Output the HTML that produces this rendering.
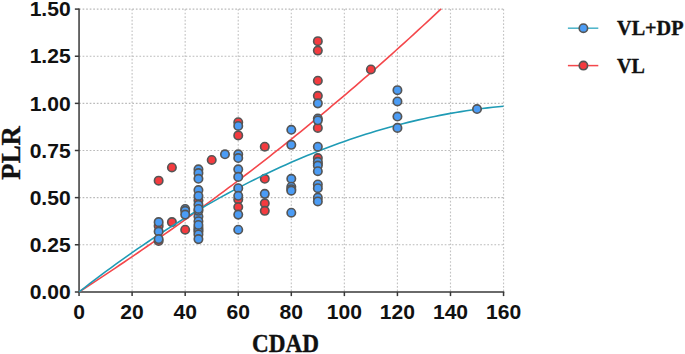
<!DOCTYPE html>
<html><head><meta charset="utf-8"><title>chart</title>
<style>
html,body{margin:0;padding:0;background:#fff;}
body{width:685px;height:354px;overflow:hidden;font-family:"Liberation Sans",sans-serif;}
svg{display:block}
.tk{font-family:"Liberation Sans",sans-serif;font-weight:bold;font-size:20.7px;fill:#111;}
.ser{font-family:"Liberation Serif",serif;font-weight:bold;fill:#111;stroke:#111;stroke-width:0.35px;}
</style></head><body>
<svg width="685" height="354" viewBox="0 0 685 354">
<rect width="685" height="354" fill="#fff"/>

<g stroke="#c4c4c4" stroke-width="1.15" stroke-dasharray="1.7 1.85" fill="none">
<line x1="132.11" y1="9.10" x2="132.11" y2="291.90"/>
<line x1="185.18" y1="9.10" x2="185.18" y2="291.90"/>
<line x1="238.24" y1="9.10" x2="238.24" y2="291.90"/>
<line x1="291.30" y1="9.10" x2="291.30" y2="291.90"/>
<line x1="344.36" y1="9.10" x2="344.36" y2="291.90"/>
<line x1="397.43" y1="9.10" x2="397.43" y2="291.90"/>
<line x1="450.49" y1="9.10" x2="450.49" y2="291.90"/>
<line x1="503.55" y1="9.10" x2="503.55" y2="291.90"/>
</g>
<g stroke="#bababa" stroke-width="1.15" stroke-dasharray="1.7 1.85" fill="none">
<line x1="79.05" y1="244.77" x2="503.55" y2="244.77"/>
<line x1="79.05" y1="197.63" x2="503.55" y2="197.63"/>
<line x1="79.05" y1="150.50" x2="503.55" y2="150.50"/>
<line x1="79.05" y1="103.37" x2="503.55" y2="103.37"/>
<line x1="79.05" y1="56.23" x2="503.55" y2="56.23"/>
<line x1="79.05" y1="9.10" x2="503.55" y2="9.10"/>
</g>
<g stroke="#383838" stroke-width="1.5" fill="none">
<line x1="79.05" y1="8.40" x2="79.05" y2="296.10"/>
<line x1="74.85" y1="291.90" x2="504.25" y2="291.90"/>
<line x1="132.11" y1="291.90" x2="132.11" y2="296.10"/>
<line x1="185.18" y1="291.90" x2="185.18" y2="296.10"/>
<line x1="238.24" y1="291.90" x2="238.24" y2="296.10"/>
<line x1="291.30" y1="291.90" x2="291.30" y2="296.10"/>
<line x1="344.36" y1="291.90" x2="344.36" y2="296.10"/>
<line x1="397.43" y1="291.90" x2="397.43" y2="296.10"/>
<line x1="450.49" y1="291.90" x2="450.49" y2="296.10"/>
<line x1="503.55" y1="291.90" x2="503.55" y2="296.10"/>
<line x1="74.85" y1="244.77" x2="79.05" y2="244.77"/>
<line x1="74.85" y1="197.63" x2="79.05" y2="197.63"/>
<line x1="74.85" y1="150.50" x2="79.05" y2="150.50"/>
<line x1="74.85" y1="103.37" x2="79.05" y2="103.37"/>
<line x1="74.85" y1="56.23" x2="79.05" y2="56.23"/>
<line x1="74.85" y1="9.10" x2="79.05" y2="9.10"/>
</g>
<path d="M79.05,291.90 L83.58,288.96 L88.10,286.01 L92.63,283.05 L97.15,280.08 L101.68,277.09 L106.20,274.09 L110.73,271.08 L115.25,268.06 L119.78,265.02 L124.30,261.97 L128.83,258.91 L133.35,255.83 L137.88,252.74 L142.40,249.64 L146.93,246.52 L151.45,243.39 L155.98,240.25 L160.50,237.09 L165.03,233.92 L169.55,230.73 L174.08,227.53 L178.61,224.31 L183.13,221.08 L187.66,217.83 L192.18,214.57 L196.71,211.30 L201.23,208.01 L205.76,204.70 L210.28,201.38 L214.81,198.05 L219.33,194.69 L223.86,191.33 L228.38,187.94 L232.91,184.54 L237.43,181.13 L241.96,177.70 L246.48,174.25 L251.01,170.78 L255.53,167.30 L260.06,163.81 L264.58,160.29 L269.11,156.76 L273.64,153.21 L278.16,149.65 L282.69,146.06 L287.21,142.46 L291.74,138.84 L296.26,135.21 L300.79,131.56 L305.31,127.89 L309.84,124.20 L314.36,120.49 L318.89,116.76 L323.41,113.02 L327.94,109.26 L332.46,105.48 L336.99,101.68 L341.51,97.86 L346.04,94.02 L350.56,90.16 L355.09,86.29 L359.61,82.39 L364.14,78.48 L368.67,74.54 L373.19,70.59 L377.72,66.62 L382.24,62.62 L386.77,58.61 L391.29,54.58 L395.82,50.52 L400.34,46.45 L404.87,42.35 L409.39,38.24 L413.92,34.10 L418.44,29.94 L422.97,25.76 L427.49,21.56 L432.02,17.34 L436.54,13.10 L441.07,8.84" stroke="#f4474b" stroke-width="1.6" fill="none"/>
<g stroke="#555555" stroke-width="1.65" fill="#f43b3f">
<circle cx="158.64" cy="180.67" r="4.2"/>
<circle cx="171.91" cy="167.47" r="4.2"/>
<circle cx="171.91" cy="222.14" r="4.2"/>
<circle cx="158.64" cy="225.91" r="4.2"/>
<circle cx="158.64" cy="241.00" r="4.2"/>
<circle cx="185.18" cy="229.68" r="4.2"/>
<circle cx="198.44" cy="200.46" r="4.2"/>
<circle cx="211.71" cy="159.93" r="4.2"/>
<circle cx="238.24" cy="122.22" r="4.2"/>
<circle cx="238.24" cy="135.42" r="4.2"/>
<circle cx="238.24" cy="199.52" r="4.2"/>
<circle cx="238.24" cy="207.06" r="4.2"/>
<circle cx="264.77" cy="146.73" r="4.2"/>
<circle cx="264.77" cy="178.78" r="4.2"/>
<circle cx="264.77" cy="203.29" r="4.2"/>
<circle cx="264.77" cy="210.83" r="4.2"/>
<circle cx="317.83" cy="41.15" r="4.2"/>
<circle cx="317.83" cy="50.58" r="4.2"/>
<circle cx="317.83" cy="80.74" r="4.2"/>
<circle cx="317.83" cy="95.83" r="4.2"/>
<circle cx="317.83" cy="127.88" r="4.2"/>
<circle cx="317.83" cy="158.04" r="4.2"/>
<circle cx="317.83" cy="163.70" r="4.2"/>
<circle cx="370.89" cy="69.43" r="4.2"/>
</g>
<path d="M79.05,291.90 L84.36,287.77 L89.66,283.68 L94.97,279.64 L100.28,275.64 L105.58,271.69 L110.89,267.79 L116.19,263.93 L121.50,260.11 L126.81,256.35 L132.11,252.63 L137.42,248.95 L142.72,245.32 L148.03,241.74 L153.34,238.20 L158.64,234.71 L163.95,231.27 L169.26,227.87 L174.56,224.51 L179.87,221.21 L185.18,217.94 L190.48,214.73 L195.79,211.56 L201.09,208.44 L206.40,205.36 L211.71,202.32 L217.01,199.34 L222.32,196.40 L227.62,193.50 L232.93,190.66 L238.24,187.85 L243.54,185.10 L248.85,182.39 L254.16,179.72 L259.46,177.10 L264.77,174.53 L270.07,172.00 L275.38,169.52 L280.69,167.08 L285.99,164.69 L291.30,162.35 L296.61,160.05 L301.91,157.80 L307.22,155.60 L312.53,153.44 L317.83,151.32 L323.14,149.25 L328.44,147.23 L333.75,145.25 L339.06,143.32 L344.36,141.44 L349.67,139.60 L354.98,137.81 L360.28,136.06 L365.59,134.36 L370.89,132.70 L376.20,131.10 L381.51,129.53 L386.81,128.01 L392.12,126.54 L397.43,125.12 L402.73,123.74 L408.04,122.40 L413.34,121.12 L418.65,119.87 L423.96,118.68 L429.26,117.53 L434.57,116.42 L439.88,115.37 L445.18,114.35 L450.49,113.39 L455.79,112.47 L461.10,111.59 L466.41,110.76 L471.71,109.98 L477.02,109.24 L482.33,108.55 L487.63,107.91 L492.94,107.31 L498.24,106.75 L503.55,106.25" stroke="#1f9bb5" stroke-width="1.6" fill="none"/>
<g stroke="#555555" stroke-width="1.65" fill="#4b9cf5">
<circle cx="158.64" cy="222.14" r="4.2"/>
<circle cx="158.64" cy="231.57" r="4.2"/>
<circle cx="158.64" cy="239.11" r="4.2"/>
<circle cx="185.18" cy="208.95" r="4.2"/>
<circle cx="185.18" cy="210.83" r="4.2"/>
<circle cx="185.18" cy="214.60" r="4.2"/>
<circle cx="198.44" cy="169.35" r="4.2"/>
<circle cx="198.44" cy="173.12" r="4.2"/>
<circle cx="198.44" cy="178.78" r="4.2"/>
<circle cx="198.44" cy="190.09" r="4.2"/>
<circle cx="198.44" cy="195.94" r="4.2"/>
<circle cx="198.44" cy="204.80" r="4.2"/>
<circle cx="198.44" cy="216.49" r="4.2"/>
<circle cx="198.44" cy="210.83" r="4.2"/>
<circle cx="198.44" cy="208.95" r="4.2"/>
<circle cx="198.44" cy="227.80" r="4.2"/>
<circle cx="198.44" cy="229.68" r="4.2"/>
<circle cx="198.44" cy="231.57" r="4.2"/>
<circle cx="198.44" cy="221.20" r="4.2"/>
<circle cx="198.44" cy="224.97" r="4.2"/>
<circle cx="198.44" cy="234.40" r="4.2"/>
<circle cx="198.44" cy="239.11" r="4.2"/>
<circle cx="224.97" cy="154.27" r="4.2"/>
<circle cx="238.24" cy="125.99" r="4.2"/>
<circle cx="238.24" cy="154.27" r="4.2"/>
<circle cx="238.24" cy="158.04" r="4.2"/>
<circle cx="238.24" cy="169.35" r="4.2"/>
<circle cx="238.24" cy="176.89" r="4.2"/>
<circle cx="238.24" cy="188.21" r="4.2"/>
<circle cx="238.24" cy="195.75" r="4.2"/>
<circle cx="238.24" cy="214.60" r="4.2"/>
<circle cx="238.24" cy="229.68" r="4.2"/>
<circle cx="264.77" cy="193.86" r="4.2"/>
<circle cx="291.30" cy="129.76" r="4.2"/>
<circle cx="291.30" cy="144.84" r="4.2"/>
<circle cx="291.30" cy="178.78" r="4.2"/>
<circle cx="291.30" cy="186.70" r="4.2"/>
<circle cx="291.30" cy="189.15" r="4.2"/>
<circle cx="291.30" cy="190.66" r="4.2"/>
<circle cx="291.30" cy="212.72" r="4.2"/>
<circle cx="317.83" cy="103.37" r="4.2"/>
<circle cx="317.83" cy="118.45" r="4.2"/>
<circle cx="317.83" cy="120.33" r="4.2"/>
<circle cx="317.83" cy="146.73" r="4.2"/>
<circle cx="317.83" cy="161.81" r="4.2"/>
<circle cx="317.83" cy="165.58" r="4.2"/>
<circle cx="317.83" cy="171.24" r="4.2"/>
<circle cx="317.83" cy="184.44" r="4.2"/>
<circle cx="317.83" cy="188.21" r="4.2"/>
<circle cx="317.83" cy="197.63" r="4.2"/>
<circle cx="317.83" cy="201.40" r="4.2"/>
<circle cx="397.43" cy="90.17" r="4.2"/>
<circle cx="397.43" cy="101.48" r="4.2"/>
<circle cx="397.43" cy="116.56" r="4.2"/>
<circle cx="397.43" cy="127.88" r="4.2"/>
<circle cx="477.02" cy="109.02" r="4.2"/>
</g>
<text class="tk" text-anchor="end" transform="translate(70.70,299.10) scale(1.02,1)">0.00</text>
<text class="tk" text-anchor="end" transform="translate(70.70,251.97) scale(1.02,1)">0.25</text>
<text class="tk" text-anchor="end" transform="translate(70.70,204.83) scale(1.02,1)">0.50</text>
<text class="tk" text-anchor="end" transform="translate(70.70,157.70) scale(1.02,1)">0.75</text>
<text class="tk" text-anchor="end" transform="translate(70.70,110.57) scale(1.02,1)">1.00</text>
<text class="tk" text-anchor="end" transform="translate(70.70,63.43) scale(1.02,1)">1.25</text>
<text class="tk" text-anchor="end" transform="translate(70.70,16.30) scale(1.02,1)">1.50</text>
<text class="tk" text-anchor="middle" transform="translate(79.05,319.3) scale(1.02,1)">0</text>
<text class="tk" text-anchor="middle" transform="translate(132.11,319.3) scale(1.02,1)">20</text>
<text class="tk" text-anchor="middle" transform="translate(185.18,319.3) scale(1.02,1)">40</text>
<text class="tk" text-anchor="middle" transform="translate(238.24,319.3) scale(1.02,1)">60</text>
<text class="tk" text-anchor="middle" transform="translate(291.30,319.3) scale(1.02,1)">80</text>
<text class="tk" text-anchor="middle" transform="translate(344.36,319.3) scale(1.02,1)">100</text>
<text class="tk" text-anchor="middle" transform="translate(397.43,319.3) scale(1.02,1)">120</text>
<text class="tk" text-anchor="middle" transform="translate(450.49,319.3) scale(1.02,1)">140</text>
<text class="tk" text-anchor="middle" transform="translate(503.55,319.3) scale(1.02,1)">160</text>
<text class="ser" font-size="24.3" text-anchor="middle" transform="translate(285.6,352.3) scale(0.955,1)">CDAD</text>
<text class="ser" font-size="26.8" text-anchor="middle" transform="translate(20.0,152.9) rotate(-90)">PLR</text>
<line x1="567.9" y1="28.2" x2="598.3" y2="28.2" stroke="#49b3c9" stroke-width="1.5"/>
<circle cx="583.4" cy="28.2" r="4.2" fill="#4b9cf5" stroke="#555555" stroke-width="1.65"/>
<line x1="567.9" y1="65.6" x2="598.3" y2="65.6" stroke="#f4474b" stroke-width="1.5"/>
<circle cx="583.4" cy="65.6" r="4.2" fill="#f43b3f" stroke="#555555" stroke-width="1.65"/>
<text class="ser" font-size="20" x="617.1" y="35.3" textLength="66.4" lengthAdjust="spacingAndGlyphs">VL+DP</text>
<text class="ser" font-size="20" x="617.1" y="72.6">VL</text>
</svg></body></html>
